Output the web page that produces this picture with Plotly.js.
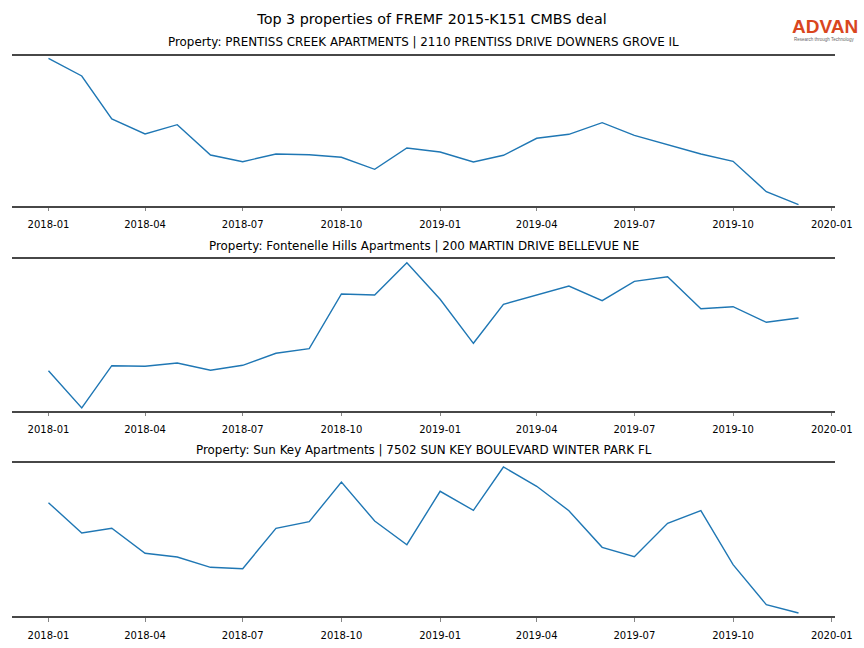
<!DOCTYPE html>
<html>
<head>
<meta charset="utf-8">
<script src="https://cdn.plot.ly/plotly-3.0.1.min.js"></script>
<style>html,body{margin:0;padding:0;background:#fff;}#chart{width:864px;height:648px;}</style>
</head>
<body>
<div id="chart"></div>
<script>
const months = ["2018-01-01","2018-02-01","2018-03-01","2018-04-01","2018-05-01","2018-06-01",
  "2018-07-01","2018-08-01","2018-09-01","2018-10-01","2018-11-01","2018-12-01",
  "2019-01-01","2019-02-01","2019-03-01","2019-04-01","2019-05-01","2019-06-01",
  "2019-07-01","2019-08-01","2019-09-01","2019-10-01","2019-11-01","2019-12-01"];

const prentissValues = [147.4,129.7,86.7,71.7,81.0,50.7,44.0,51.7,51.0,48.4,36.4,57.7,
  53.7,43.7,50.4,67.4,71.4,83.0,70.4,60.7,51.7,44.4,14.0,1.0];
const fontenelleValues = [40.0,2.7,45.0,44.4,47.7,40.4,45.4,57.4,62.0,116.7,115.7,148.0,
  111.4,67.4,106.4,115.7,124.7,110.0,129.4,134.0,102.0,104.0,88.4,92.7];
const sunKeyValues = [113.3,83.0,87.7,62.7,59.0,48.7,47.3,87.7,94.3,134.0,95.0,71.3,
  124.7,105.7,149.0,129.7,105.3,68.7,59.3,92.7,105.3,51.3,11.3,3.0];

const mainTitle = "Top 3 properties of FREMF 2015-K151 CMBS deal";
const panelTitles = [
  "Property: PRENTISS CREEK APARTMENTS | 2110 PRENTISS DRIVE DOWNERS GROVE IL",
  "Property: Fontenelle Hills Apartments | 200 MARTIN DRIVE BELLEVUE NE",
  "Property: Sun Key Apartments | 7502 SUN KEY BOULEVARD WINTER PARK FL"
];
const seriesList = [prentissValues, fontenelleValues, sunKeyValues];
const yMax = [150, 151.7, 153.3];

const H = 648;
const W = 864, ML = 12, MR = 29;
const domains = [[1-205.7/H, 1-55.7/H],[1-410.7/H, 1-259/H],[1-616/H, 1-462.7/H]];
const titleY = [42, 246, 450];

const font = "DejaVu Sans, sans-serif";
const traces = [];
const layout = {
  width: W, height: H,
  margin: {l: ML, r: MR, t: 0, b: 0},
  paper_bgcolor: "#fff", plot_bgcolor: "#fff",
  showlegend: false,
  font: {family: font, color: "#000"},
  title: {text: mainTitle, font: {family: font, size: 14.3, color: "#000"},
    x: 0.5, xref: "container", xanchor: "center", y: 1-19/H, yref: "container", yanchor: "middle"},
  annotations: []
};

seriesList.forEach((vals, i) => {
  const n = i === 0 ? "" : String(i+1);
  traces.push({
    x: months, y: vals, type: "scatter", mode: "lines",
    line: {color: "#1f77b4", width: 1.4},
    xaxis: "x" + n, yaxis: "y" + n, hoverinfo: "skip"
  });
  layout["xaxis" + n] = {
    type: "date", range: ["2017-11-28", "2020-01-04"],
    domain: [0, 1], anchor: "y" + n,
    tickmode: "linear", tick0: "2018-01-01", dtick: "M3", tickformat: "%Y-%m",
    ticks: "outside", ticklen: 3.5, tickwidth: 0.8, tickcolor: "#666",
    ticklabelstandoff: 5,
    showline: true, mirror: true, linecolor: "#474747", linewidth: 2,
    showgrid: false, zeroline: false,
    tickfont: {family: font, size: 10, color: "#000"}
  };
  layout["yaxis" + n] = {
    domain: domains[i], anchor: "x" + n, range: [0, yMax[i]],
    showticklabels: false, ticks: "", showgrid: false, zeroline: false, showline: false
  };
  layout.annotations.push({
    text: panelTitles[i], xref: "paper", yref: "paper", x: 0.5, y: 1 - titleY[i]/H,
    xanchor: "center", yanchor: "middle", showarrow: false,
    font: {family: font, size: 11.9, color: "#000"}
  });
});

layout.annotations.push({
  text: "<b>ADVAN</b>", xref: "paper", yref: "paper", x: (825 - ML) / (W - ML - MR), y: 1 - 26.5/H,
  xanchor: "center", yanchor: "middle", showarrow: false, borderpad: 0,
  font: {family: "Liberation Sans, Arial, sans-serif", size: 19, color: "#d9461e"}
});
layout.annotations.push({
  text: "Research through Technology", xref: "paper", yref: "paper", x: (824 - ML) / (W - ML - MR), y: 1 - 39.5/H,
  xanchor: "center", yanchor: "middle", showarrow: false, borderpad: 0,
  font: {family: "Liberation Sans, Arial, sans-serif", size: 4.5, color: "#666"}
});

Plotly.newPlot("chart", traces, layout, {displayModeBar: false, staticPlot: true});
</script>
</body>
</html>
